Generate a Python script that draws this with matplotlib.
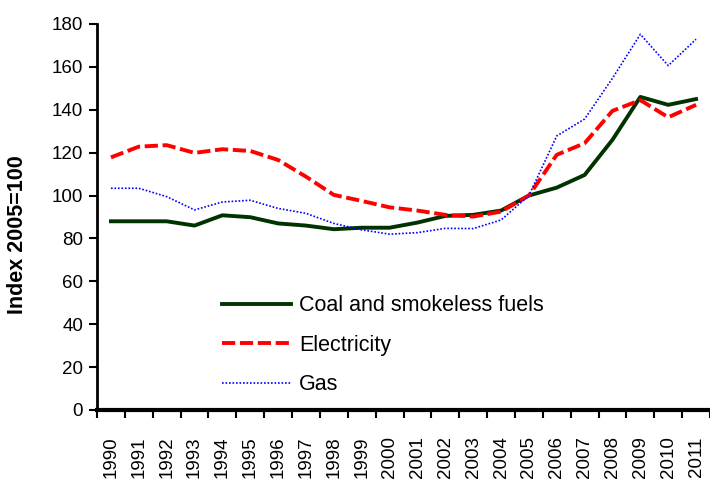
import numpy as np
import matplotlib.pyplot as plt

# datos (índice 2005=100)
years = list(range(1990, 2012))
coal = [88, 88, 88, 86, 90.8, 89.9, 87, 86, 84.3, 85, 85,
        87.4, 90.5, 91, 93, 100, 103.7, 109.6, 126, 146, 142.3, 145]
electricity = [117.8, 122.8, 123.5, 119.9, 121.6, 120.8, 116.6, 108.8, 100.3, 97.5, 94.5,
               93, 91, 90.2, 92.5, 100, 119, 124.4, 139.5, 144.5, 136.5, 142.3]
gas = [103.4, 103.4, 99.5, 93.3, 97, 97.8, 94, 91.7, 87, 84, 82,
       82.7, 84.7, 84.6, 88.6, 100, 127.8, 135.7, 154.7, 175.2, 160.6, 172.9]
labels = ["Coal and smokeless fuels", "Electricity", "Gas"]

plt.rcParams['font.family'] = ['Liberation Sans', 'DejaVu Sans']

fig = plt.figure(figsize=(7.1, 4.79), dpi=100)
ax = fig.add_axes([97/710, 69/479, 613/710, 386/479])

x = np.arange(len(years))
ax.plot(x, coal, color='#003300', lw=2.8, solid_joinstyle='round', label=labels[0])
ax.plot(x, electricity, color='#ff0000', lw=2.8, dashes=(3.4, 1.2), label=labels[1])
ax.plot(x, gas, color='#0000ff', lw=1.2, dashes=(1, 1.1), label=labels[2])

ax.set_xlim(-0.5, len(years) - 0.5)
ax.set_ylim(0, 180)
ax.set_yticks(np.arange(0, 181, 20))

# ticks entre categorías, etiquetas en el centro
ax.set_xticks(np.arange(len(years) + 1) - 0.5)
ax.set_xticklabels([])
ax.set_xticks(x, minor=True)
ax.set_xticklabels([str(y) for y in years], minor=True, rotation=90, fontsize=13.5)
ax.tick_params(axis='x', which='major', direction='out', length=6, width=1.5)
ax.tick_params(axis='x', which='minor', length=0, pad=19)
ax.tick_params(axis='y', direction='out', length=6, width=1.5, labelsize=13.5, pad=4)

for s in ['top', 'right']:
    ax.spines[s].set_visible(False)
ax.spines['left'].set_linewidth(2)
ax.spines['bottom'].set_linewidth(3)

ax.set_ylabel("Index 2005=100", fontsize=15.5, fontweight='bold')
ax.yaxis.set_label_coords(-0.113, 0.455)

leg = ax.legend(loc='upper left', bbox_to_anchor=(0.204, 0.297), frameon=False,
                fontsize=15.5, handlelength=3.2, labelspacing=0.86, handletextpad=0.37,
                borderaxespad=0, borderpad=0)

fig.savefig("out.png", dpi=100)
